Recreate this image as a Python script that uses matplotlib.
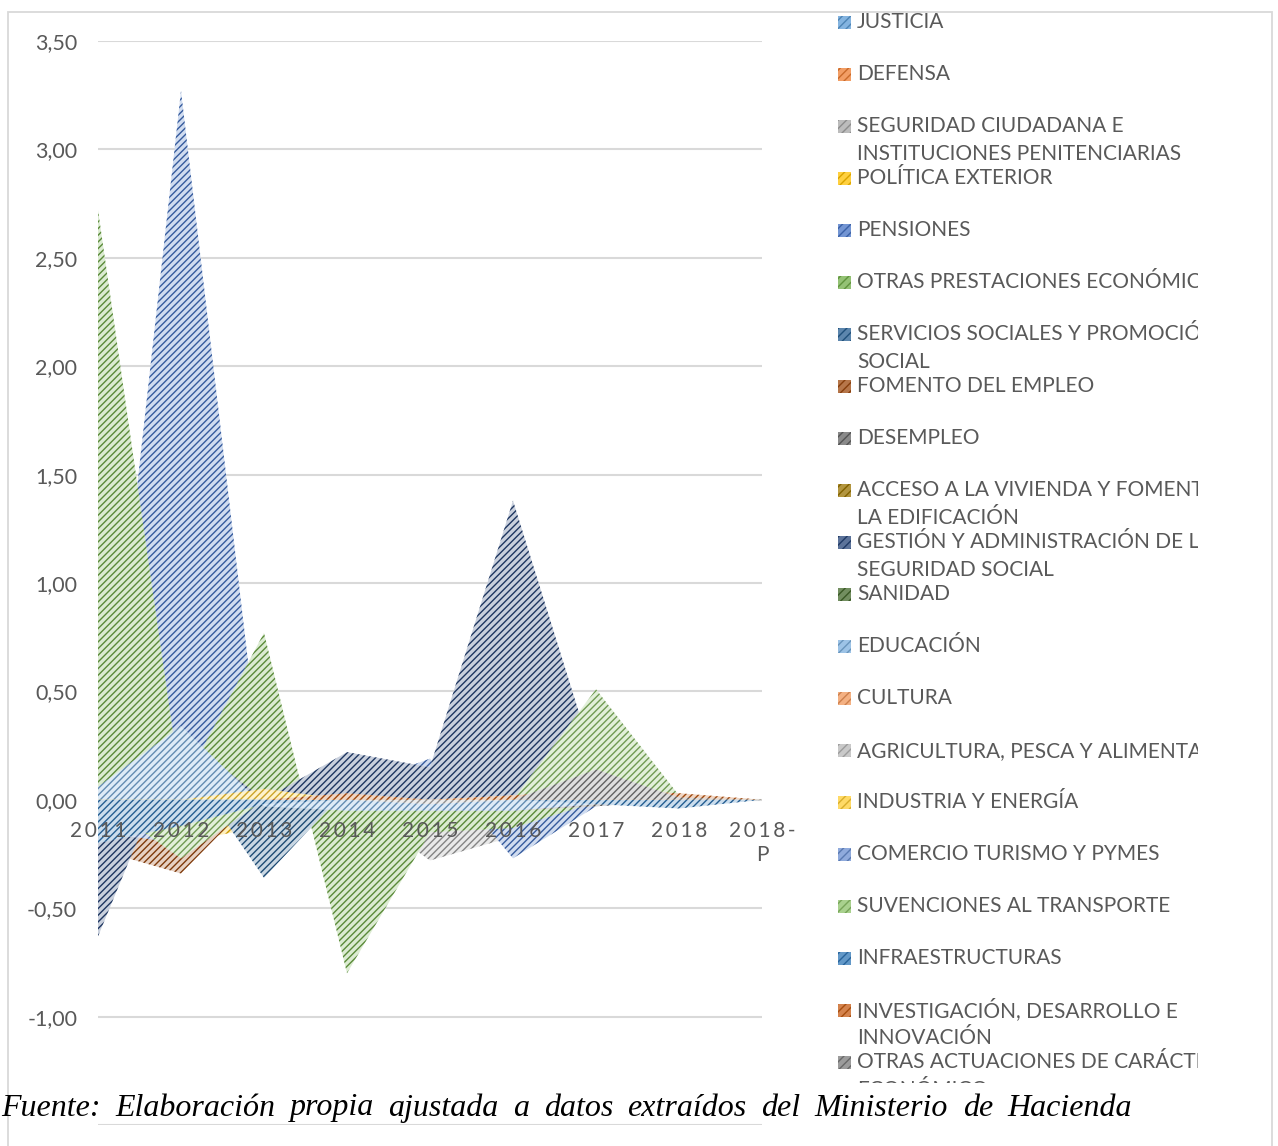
import matplotlib
matplotlib.use('Agg')
import matplotlib.pyplot as plt
from matplotlib.patches import Rectangle
import numpy as np

# ---------------- data ----------------
years = ['2011', '2012', '2013', '2014', '2015', '2016', '2017', '2018', '2018-P']

justicia        = [-0.08, -0.06, -0.02, 0.12, 0.02, 0.00, 0.00, 0.00, 0.00]
defensa         = [-0.20, -0.15, -0.02, 0.03, 0.00, 0.00, 0.00, 0.00, 0.00]
seguridad       = [-0.12, -0.05, 0.00, 0.00, -0.28, -0.17, -0.03, 0.00, 0.00]
politica_ext    = [-0.30, -0.20, -0.12, 0.20, 0.00, 0.00, 0.00, 0.00, 0.00]
pensiones       = [-0.18, 3.27, 0.01, 0.05, 0.19, -0.27, -0.03, 0.00, 0.00]
otras_prest     = [2.72, 0.05, 0.77, -0.80, -0.15, -0.13, -0.01, 0.00, 0.00]
servicios_soc   = [-0.05, 0.20, -0.36, 0.05, -0.03, 0.00, 0.00, 0.00, 0.00]
fomento_empleo  = [-0.23, -0.34, 0.05, 0.00, 0.00, 0.00, 0.00, 0.00, 0.00]
desempleo       = [-0.05, -0.05, 0.00, 0.00, -0.05, -0.05, -0.03, 0.00, 0.00]
vivienda        = [-0.04, -0.03, 0.00, 0.03, 0.04, 0.04, 0.04, 0.00, 0.00]
gestion_ss      = [-0.63, 0.30, 0.00, 0.22, 0.15, 1.38, 0.15, 0.00, 0.00]
sanidad         = [0.02, 0.03, 0.01, -0.02, 0.00, 0.00, 0.00, 0.00, 0.00]
educacion       = [0.06, 0.34, -0.03, -0.05, -0.05, -0.05, -0.02, 0.00, 0.00]
cultura         = [-0.18, -0.12, 0.00, 0.00, 0.00, 0.02, 0.04, 0.03, 0.00]
agricultura     = [0.00, 0.00, 0.03, 0.00, -0.02, 0.00, 0.00, 0.00, 0.00]
industria       = [-0.02, 0.00, 0.05, 0.00, 0.00, 0.00, 0.00, 0.00, 0.00]
comercio        = [-0.15, -0.20, 0.00, 0.00, 0.00, 0.00, 0.00, 0.00, 0.00]
transporte      = [0.00, -0.27, 0.00, 0.00, 0.00, 0.00, 0.51, 0.02, 0.00]
infraestructura = [-0.20, -0.12, -0.02, 0.00, 0.00, 0.00, -0.02, -0.04, 0.00]
i_d_i           = [0.00, 0.00, 0.00, 0.03, 0.00, 0.02, 0.05, 0.03, 0.00]
otras_actuac    = [0.00, 0.00, 0.00, 0.00, 0.00, 0.00, 0.14, 0.01, 0.00]

labels = [
    'JUSTICIA',
    'DEFENSA',
    'SEGURIDAD CIUDADANA E\nINSTITUCIONES PENITENCIARIAS',
    'POLÍTICA EXTERIOR',
    'PENSIONES',
    'OTRAS PRESTACIONES ECONÓMICAS',
    'SERVICIOS SOCIALES Y PROMOCIÓN\nSOCIAL',
    'FOMENTO DEL EMPLEO',
    'DESEMPLEO',
    'ACCESO A LA VIVIENDA Y FOMENTO DE\nLA EDIFICACIÓN',
    'GESTIÓN Y ADMINISTRACIÓN DE LA\nSEGURIDAD SOCIAL',
    'SANIDAD',
    'EDUCACIÓN',
    'CULTURA',
    'AGRICULTURA, PESCA Y ALIMENTACIÓN',
    'INDUSTRIA Y ENERGÍA',
    'COMERCIO TURISMO Y PYMES',
    'SUVENCIONES AL TRANSPORTE',
    'INFRAESTRUCTURAS',
    'INVESTIGACIÓN, DESARROLLO E\nINNOVACIÓN',
    'OTRAS ACTUACIONES DE CARÁCTER\nECONÓMICO',
]

series_values = [justicia, defensa, seguridad, politica_ext, pensiones, otras_prest,
                 servicios_soc, fomento_empleo, desempleo, vivienda, gestion_ss, sanidad,
                 educacion, cultura, agricultura, industria, comercio, transporte,
                 infraestructura, i_d_i, otras_actuac]

yticks = [-1.5, -1.0, -0.5, 0.0, 0.5, 1.0, 1.5, 2.0, 2.5, 3.0, 3.5]

caption = 'Fuente: Elaboración propia ajustada a datos extraídos del Ministerio de Hacienda'

# ---------------- style ----------------
colors = ['#5B9BD5', '#ED7D31', '#A5A5A5', '#FFC000', '#4472C4', '#70AD47',
          '#255E91', '#9E480E', '#636363', '#997300', '#264478', '#43682B',
          '#7CAFDD', '#F1975A', '#B7B7B7', '#FFCD33', '#698ED0', '#8CC168',
          '#2E75B6', '#C55A11', '#7B7B7B']


def tint(hexc, f):
    c = np.array(matplotlib.colors.to_rgb(hexc))
    return tuple(c + (1 - c) * f)


def shade(hexc, f):
    c = np.array(matplotlib.colors.to_rgb(hexc))
    return tuple(c * f)


plt.rcParams['hatch.linewidth'] = 1.0
W, H = 1278, 1146
fig = plt.figure(figsize=(W / 100, H / 100), dpi=100)
fig.patch.set_facecolor('white')


def fx(px):
    return px / W


def fy(py):
    return 1 - py / H


# outer chart border
fig.patches.append(Rectangle((fx(8), fy(1160)), fx(1272) - fx(8), fy(12) - fy(1160),
                             transform=fig.transFigure, fill=False,
                             edgecolor='#D9D9D9', linewidth=1.3, zorder=0))

ax = fig.add_axes([fx(98), fy(1125), fx(762) - fx(98), fy(41) - fy(1125)])
ax.set_facecolor('none')
x = np.arange(len(years))
ax.set_xlim(0, len(years) - 1)
ax.set_ylim(-1.5, 3.5)

for i, vals in enumerate(series_values):
    fg = colors[i]
    ax.fill_between(x, 0, vals, facecolor=tint(fg, 0.75), edgecolor=shade(fg, 0.8),
                    hatch='/////', linewidth=0, zorder=2 + i)

for s in ax.spines.values():
    s.set_visible(False)
ax.set_yticks(yticks)
ax.set_yticklabels(['' if v == -1.5 else f'{v:.2f}'.replace('.', ',') for v in yticks])
ax.tick_params(axis='y', length=0, pad=15, labelsize=15.5, labelcolor='#595959')
for t in ax.get_yticklabels():
    t.set_fontfamily('Lato')
ax.set_xticks([])
ax.yaxis.grid(True, color='#D9D9D9', linewidth=1.5, zorder=0)
ax.set_axisbelow(True)

for i, yr in enumerate(years):
    lab = '\u2009'.join(list(yr)) if yr != '2018-P' else '2\u20090\u20091\u20098\u2009-\nP'
    ax.annotate(lab, xy=(i, 0), xycoords='data', xytext=(0, -15), textcoords='offset points',
                ha='center', va='top', fontsize=15, color='#595959',
                family=['Lato', 'DejaVu Sans'], linespacing=1.25, zorder=50,
                annotation_clip=False)

# legend (manual, clipped like the original)
lax = fig.add_axes([fx(830), fy(1083), fx(1198) - fx(830), fy(10) - fy(1083)])
lax.set_xlim(830, 1198)
lax.set_ylim(1083, 10)
lax.axis('off')
for i, lab in enumerate(labels):
    yc = 22 + 52 * i
    lax.add_patch(Rectangle((838, yc - 6.5), 13, 13, facecolor=tint(colors[i], 0.25),
                            edgecolor=shade(colors[i], 0.85), hatch='////', linewidth=0,
                            clip_on=True))
    for j, line in enumerate(lab.split('\n')):
        lax.text(857, yc + 28 * j, line, ha='left', va='center', fontsize=15,
                 color='#595959', family='Lato', clip_on=True)

# caption, justified
words = caption.split(' ')
renderer = fig.canvas.get_renderer()
txts = []
widths = []
for w_ in words:
    t = fig.text(0, fy(1108), w_, fontsize=23, style='italic', family='Liberation Serif',
                 color='black', va='center', ha='left')
    txts.append(t)
    widths.append(t.get_window_extent(renderer).width)
x0, x1 = 1, 1132
gap = (x1 - x0 - sum(widths)) / (len(words) - 1)
cur = x0
for t, wd in zip(txts, widths):
    t.set_x(fx(cur))
    cur += wd + gap

fig.savefig('out.png', dpi=100, facecolor='white')
